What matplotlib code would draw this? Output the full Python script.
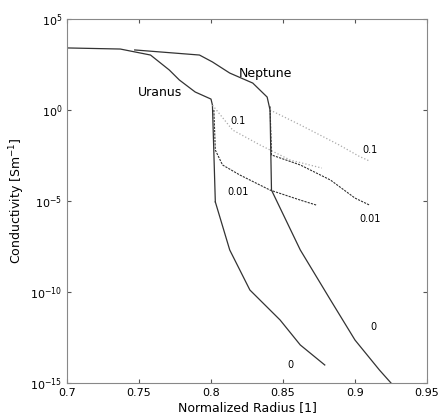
import matplotlib
matplotlib.use("Agg")
import matplotlib.pyplot as plt
import numpy as np

# log10 conductivity
ura_x = [0.70, 0.737, 0.758, 0.771, 0.778, 0.789, 0.800, 0.801, 0.803]
ura_y = [3.41, 3.35, 3.02, 2.20, 1.65, 0.99, 0.60, 0.27, -5.05]
ura0_x = [0.803, 0.813, 0.827, 0.848, 0.862, 0.879]
ura0_y = [-5.05, -7.69, -9.89, -11.54, -12.91, -14.01]
ura01_x = [0.801, 0.815, 0.834, 0.855, 0.877]
ura01_y = [0.27, -1.10, -1.92, -2.75, -3.19]
ura001_x = [0.802, 0.803, 0.808, 0.820, 0.841, 0.862, 0.873]
ura001_y = [0.0, -2.20, -3.02, -3.57, -4.40, -4.95, -5.22]

nep_x = [0.747, 0.792, 0.801, 0.813, 0.829, 0.839, 0.841, 0.842]
nep_y = [3.30, 3.02, 2.64, 2.03, 1.48, 0.71, 0.0, -4.40]
nep0_x = [0.842, 0.862, 0.883, 0.900, 0.917, 0.925]
nep0_y = [-4.40, -7.69, -10.44, -12.64, -14.29, -15.0]
nep01_x = [0.841, 0.862, 0.889, 0.903, 0.910]
nep01_y = [0.0, -0.82, -1.92, -2.55, -2.80]
nep001_x = [0.841, 0.842, 0.862, 0.883, 0.900, 0.910]
nep001_y = [0.2, -2.47, -3.02, -3.85, -4.84, -5.22]

fig = plt.figure(figsize=(4.42, 4.18), dpi=100)
ax = fig.add_axes([67 / 442, 1 - 383 / 418, 360 / 442, 364 / 418])

def draw(x, y, **kw):
    ax.plot(x, 10 ** np.array(y), **kw)

draw(ura_x, ura_y, color="#333333", lw=0.9)
draw(ura0_x, ura0_y, color="#333333", lw=0.9)
draw(nep_x, nep_y, color="#333333", lw=0.9)
draw(nep0_x, nep0_y, color="#333333", lw=0.9)
draw(ura01_x, ura01_y, color="#aaaaaa", lw=0.9, ls=":")
draw(nep01_x, nep01_y, color="#aaaaaa", lw=0.9, ls=":")
draw(ura001_x, ura001_y, color="#333333", lw=0.8, ls="--", dashes=(2, 1))
draw(nep001_x, nep001_y, color="#333333", lw=0.8, ls="--", dashes=(2, 1))

ax.set_yscale("log")
ax.set_xlim(0.7, 0.95)
ax.set_ylim(1e-15, 1e5)
ax.set_xticks([0.7, 0.75, 0.8, 0.85, 0.9, 0.95])
ax.set_xticklabels(["0.7", "0.75", "0.8", "0.85", "0.9", "0.95"])
ax.set_yticks([1e-15, 1e-10, 1e-5, 1e0, 1e5])
ax.yaxis.set_minor_locator(matplotlib.ticker.NullLocator())
ax.tick_params(direction="in", labelsize=8, length=3, top=True, right=True,
               colors="#555555", labelcolor="black")
for s in ax.spines.values():
    s.set_color("#888888")
ax.set_xlabel("Normalized Radius [1]", fontsize=9, labelpad=2)
ax.set_ylabel("Conductivity [Sm$^{-1}$]", fontsize=9, labelpad=2)

def lab(xp, yp, s, fs=7):
    ax.text(0.7 + (xp - 67) * 0.05 / 72, 10 ** (5 - (yp - 19) / 18.2), s,
            fontsize=fs, ha="center", va="center")

lab(160, 92, "Uranus", 9)
lab(265, 73, "Neptune", 9)
lab(238, 121, "0.1")
lab(370, 150, "0.1")
lab(238, 192, "0.01")
lab(370, 219, "0.01")
lab(290, 365, "0")
lab(373, 327, "0")

fig.savefig("out.png", dpi=100)
